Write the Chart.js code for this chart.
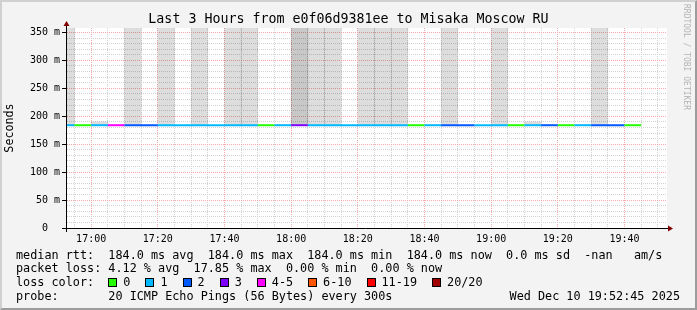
<!DOCTYPE html>
<html>
<head>
<meta charset="utf-8">
<title>Last 3 Hours from e0f06d9381ee to Misaka Moscow RU</title>
<script src="https://cdn.jsdelivr.net/npm/chart.js@4/dist/chart.umd.min.js"></script>
<style>
  html, body { margin: 0; padding: 0; }
  body {
    position: relative; width: 697px; height: 310px; overflow: hidden;
    background: #f3f3f3; font-family: "DejaVu Sans Mono", monospace; color: #000;
  }
  .frame {
    position: absolute; left: 0; top: 0; width: 693px; height: 306px;
    border: 2px solid; border-color: #d0d0d0 #9c9c9c #9c9c9c #d0d0d0;
  }
  .plot { position: absolute; left: 0; top: 0; width: 697px; height: 250px; }
  .title {
    position: absolute; left: 0; top: 11px; width: 697px; text-align: center;
    font-size: 13.3px; line-height: 16px; white-space: pre;
  }
  .mark {
    position: absolute; left: 681px; top: 4px; writing-mode: vertical-rl;
    font-size: 8px; line-height: 10px; color: #b4b4b4; white-space: pre;
  }
  .leg {
    position: absolute; left: 16px; font-size: 11.8px; line-height: 14px; white-space: pre;
  }
  .box {
    display: inline-block; width: 7px; height: 7px; border: 1px solid #000;
    vertical-align: -1px; margin-right: 6px;
  }
  .item { margin-right: 15px; }
  .stamp { position: absolute; right: 17px; top: 289px; font-size: 11.8px; line-height: 14px; white-space: pre; }
</style>
</head>
<body>
<div class="frame"></div>
<div class="plot"><canvas id="chart"></canvas></div>
<div class="title" id="title"></div>
<div class="mark">RRDTOOL / TOBI OETIKER</div>
<div class="leg" id="l1" style="top:248px"></div>
<div class="leg" id="l2" style="top:261px"></div>
<div class="leg" id="l3" style="top:275px"></div>
<div class="leg" id="l4" style="top:289px"></div>
<div class="stamp" id="stamp"></div>

<script>
// window shown (last 3 hours)
const windowStart = "16:52:45";
const windowEnd = "19:52:45";

// one 5-minute step per entry
const slotStarts = [
  "16:50", "16:55", "17:00", "17:05", "17:10", "17:15", "17:20", "17:25", "17:30", "17:35",
  "17:40", "17:45", "17:50", "17:55", "18:00", "18:05", "18:10", "18:15", "18:20", "18:25",
  "18:30", "18:35", "18:40", "18:45", "18:50", "18:55", "19:00", "19:05", "19:10", "19:15",
  "19:20", "19:25", "19:30", "19:35", "19:40",
];
const medianRtt = [
  184.0, 184.0, 184.0, 184.0, 184.0, 184.0, 184.0, 184.0, 184.0, 184.0,
  184.0, 184.0, 184.0, 184.0, 184.0, 184.0, 184.0, 184.0, 184.0, 184.0,
  184.0, 184.0, 184.0, 184.0, 184.0, 184.0, 184.0, 184.0, 184.0, 184.0,
  184.0, 184.0, 184.0, 184.0, 184.0,
];
// lost pings out of 20
const lostPings = [
  1, 0, 1, 4, 2, 2, 1, 1, 1, 1,
  1, 1, 0, 1, 3, 1, 1, 1, 1, 1,
  1, 0, 1, 2, 2, 1, 1, 0, 1, 2,
  0, 1, 2, 2, 0,
];
// highest ping of the step (smoke), ms
const smokeMax = [
  420, null, 190, null, 420, null, 420, null, 420, null,
  420, 420, null, null, 420, 420, 420, null, 420, 420,
  420, null, null, 420, null, null, 420, null, 190, null,
  null, null, 420, null, null,
];
// upper end of the dense part of the smoke, ms
const smokeDense = [
  null, null, null, null, null, null, null, null, null, null,
  null, null, null, null, 420, null, null, null, null, null,
  null, null, null, null, null, null, null, null, null, null,
  null, null, null, null, null,
];

const xTickLabels = ["17:00", "17:20", "17:40", "18:00", "18:20", "18:40", "19:00", "19:20", "19:40"];
const yTickLabels = [0, 50, 100, 150, 200, 250, 300, 350];

const lossLabels = ["0", "1", "2", "3", "4-5", "6-10", "11-19", "20/20"];
const lossColors = ["#26ff00", "#00b8ff", "#0059ff", "#7e00ff", "#ff00ff", "#ff5500", "#ff0000", "#a10000"];

const rttSummary = ["184.0 ms avg", "184.0 ms max", "184.0 ms min", "184.0 ms now", "0.0 ms sd", "-nan   am/s"];
const lossSummary = ["4.12 % avg", "17.85 % max", "0.00 % min", "0.00 % now"];
const probeText = "20 ICMP Echo Pings (56 Bytes) every 300s";
const stampText = "Wed Dec 10 19:52:45 2025";
const titleText = "Last 3 Hours from e0f06d9381ee to Misaka Moscow RU";

const toMin = s => {
  const [h, m, sec] = s.split(":").map(Number);
  return h * 60 + m + (sec || 0) / 60;
};
const step = 5;

const lossBucket = n => {
  if (n <= 3) return n;
  if (n <= 5) return 4;
  if (n <= 10) return 5;
  if (n <= 19) return 6;
  return 7;
};

// median line points, last one closes the final step
const medianPoints = slotStarts.map((t, i) => ({ x: toMin(t), y: medianRtt[i] }));
medianPoints.push({ x: toMin(slotStarts[slotStarts.length - 1]) + step, y: medianRtt[medianRtt.length - 1] });

const smokeBars = arr => slotStarts.map((t, i) => ({
  x: toMin(t) + step / 2,
  y: arr[i] == null ? null : [medianRtt[i], arr[i]],
}));

const xMin = toMin(windowStart);
const xMax = toMin(windowEnd);
const fmt = v => {
  const h = Math.floor(v / 60), m = Math.round(v - h * 60);
  return String(h).padStart(2, "0") + ":" + String(m).padStart(2, "0");
};

const gridRed = "#f7a9a9";
const gridGrey = "#d2d2d2";

const rrdFrame = {
  id: "rrdFrame",
  beforeDraw(chart) {
    const { ctx, chartArea: a } = chart;
    ctx.save();
    ctx.fillStyle = "#fff";
    ctx.fillRect(a.left, a.top, a.right - a.left, a.bottom - a.top);
    ctx.restore();
  },
  afterDraw(chart) {
    const { ctx, chartArea: a } = chart;
    ctx.save();
    ctx.strokeStyle = "#000";
    ctx.lineWidth = 1;
    ctx.beginPath();
    ctx.moveTo(a.left - 0.5, a.bottom + 4);
    ctx.lineTo(a.left - 0.5, a.top - 3);
    ctx.moveTo(a.left - 5, a.bottom + 0.5);
    ctx.lineTo(a.right + 2, a.bottom + 0.5);
    ctx.stroke();
    ctx.fillStyle = "#7f0000";
    ctx.beginPath();
    ctx.moveTo(a.left - 0.5, a.top - 7);
    ctx.lineTo(a.left - 3.5, a.top - 2);
    ctx.lineTo(a.left + 2.5, a.top - 2);
    ctx.closePath();
    ctx.fill();
    ctx.beginPath();
    ctx.moveTo(a.right + 6, a.bottom + 0.5);
    ctx.lineTo(a.right + 1, a.bottom - 2.5);
    ctx.lineTo(a.right + 1, a.bottom + 3.5);
    ctx.closePath();
    ctx.fill();
    ctx.restore();
  },
};

Chart.defaults.font.family = '"DejaVu Sans Mono", monospace';
Chart.defaults.color = "#000";

new Chart(document.getElementById("chart"), {
  data: {
    datasets: [
      {
        type: "line",
        label: "median rtt",
        data: medianPoints,
        borderWidth: 2,
        pointRadius: 0,
        tension: 0,
        borderCapStyle: "butt",
        clip: 0,
        segment: {
          borderColor: ctx => lossColors[lossBucket(lostPings[ctx.p0DataIndex])],
        },
      },
      {
        type: "bar",
        label: "smoke dense",
        data: smokeBars(smokeDense),
        backgroundColor: "rgba(0, 0, 0, 0.095)",
        borderWidth: 0,
        grouped: false,
        barPercentage: 1,
        categoryPercentage: 1,
        clip: 0,
      },
      {
        type: "bar",
        label: "smoke",
        data: smokeBars(smokeMax),
        backgroundColor: "rgba(0, 0, 0, 0.135)",
        borderWidth: 0,
        grouped: false,
        barPercentage: 1,
        categoryPercentage: 1,
        clip: 0,
      },
    ],
  },
  options: {
    responsive: true,
    maintainAspectRatio: false,
    animation: false,
    events: [],
    layout: { padding: { left: 0, top: 28, right: 30, bottom: 0 } },
    plugins: { legend: { display: false }, tooltip: { enabled: false }, title: { display: false } },
    scales: {
      x: {
        type: "linear",
        min: xMin,
        max: xMax,
        offset: false,
        afterBuildTicks: scale => {
          const ticks = [];
          for (let v = Math.ceil(xMin / step) * step; v <= xMax; v += step) ticks.push({ value: v });
          scale.ticks = ticks;
        },
        afterFit: scale => { scale.height = 22; },
        ticks: {
          autoSkip: false,
          maxRotation: 0,
          padding: 5,
          font: { size: 10 },
          callback: v => (xTickLabels.includes(fmt(v)) ? fmt(v) : ""),
        },
        grid: {
          offset: false,
          drawTicks: false,
          lineWidth: 1,
          color: ctx => (ctx.tick && xTickLabels.includes(fmt(ctx.tick.value)) ? gridRed : gridGrey),
        },
        border: { display: false, dash: [1, 1] },
      },
      y: {
        type: "linear",
        min: 0,
        max: 358,
        afterBuildTicks: scale => {
          const ticks = [];
          for (let v = 0; v <= yTickLabels[yTickLabels.length - 1]; v += 10) ticks.push({ value: v });
          scale.ticks = ticks;
        },
        afterFit: scale => { scale.width = 67; },
        title: {
          display: true,
          text: "Seconds",
          font: { size: 11.7 },
          padding: { top: 3, bottom: 0 },
        },
        ticks: {
          autoSkip: false,
          padding: 2,
          font: { size: 10 },
          callback: v => (yTickLabels.includes(v) ? (v === 0 ? "0  " : v + " m") : ""),
        },
        grid: {
          drawTicks: true,
          tickLength: 5,
          tickWidth: 1,
          tickBorderDash: [],
          tickColor: ctx => (ctx.tick && yTickLabels.includes(ctx.tick.value) ? "#000" : "rgba(0,0,0,0)"),
          color: ctx => (ctx.tick && yTickLabels.includes(ctx.tick.value) && ctx.tick.value !== 0 ? gridRed : gridGrey),
        },
        border: { display: false, dash: [1, 1] },
      },
    },
  },
  plugins: [rrdFrame],
});

// text parts of the graph
document.getElementById("title").textContent = titleText;
document.getElementById("l1").textContent = "median rtt:  " + rttSummary.join("  ");
document.getElementById("l2").textContent = "packet loss: " + lossSummary.join("  ");
document.getElementById("l4").textContent = "probe:       " + probeText;
document.getElementById("stamp").textContent = stampText;

const l3 = document.getElementById("l3");
l3.appendChild(document.createTextNode("loss color:  "));
lossLabels.forEach((label, i) => {
  const box = document.createElement("span");
  box.className = "box";
  box.style.background = lossColors[i];
  const txt = document.createElement("span");
  txt.className = "item";
  txt.textContent = label;
  l3.appendChild(box);
  l3.appendChild(txt);
});
</script>
</body>
</html>
